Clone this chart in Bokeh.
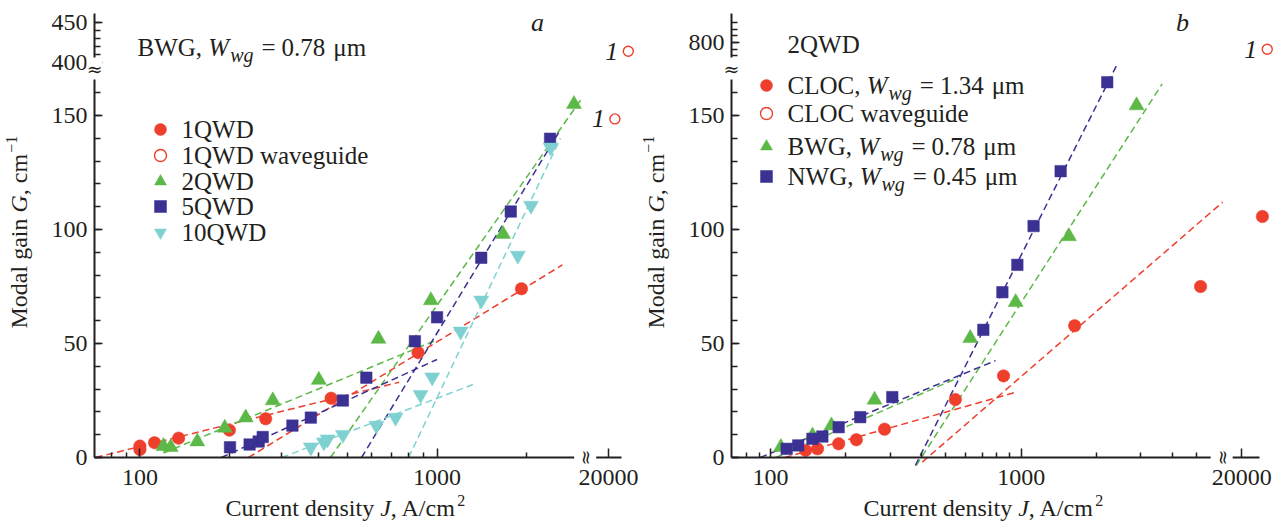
import math
from bokeh.plotting import figure
from bokeh.models import (Range1d, FixedTicker, CustomJSTickFormatter, Label,
                          Legend, LegendItem)
from bokeh.layouts import row
from bokeh.embed import file_html
from bokeh.resources import INLINE
from bokeh.core.properties import value

# ---------------- data, panel a (BWG, Wwg = 0.78 um) ----------------
a_1qwd_J = [100, 100, 112, 135, 200, 265, 440, 863, 1923]
a_1qwd_G = [3.5, 5, 6.5, 8.5, 12, 17, 26, 46, 74]
a_1qwd_wg_J = [21000, 23300]
a_1qwd_wg_G = [148.5, 414]
a_2qwd_J = [120, 127, 156, 193, 227, 280, 400, 635, 953, 1666, 2888]
a_2qwd_G = [5, 4.5, 7, 13, 17.5, 25, 34, 52, 68.9, 98, 155]
a_5qwd_J = [201, 234, 251, 259, 326, 376, 482, 578, 842, 1000, 1408, 1770, 2400]
a_5qwd_G = [4.5, 5.7, 7, 9, 14, 17.5, 25, 35, 51, 61.5, 87.6, 107.9, 139.8]
a_10qwd_J = [376, 416, 428, 482, 625, 725, 880, 963, 1200, 1408, 1870, 2070, 2410]
a_10qwd_G = [4.5, 6.7, 8, 10, 14, 17.5, 27.5, 35.2, 55.3, 68.9, 88.6, 110.5, 136]
# fitted lines: (J0, J1), (G0, G1)
a_fit_red = [((71, 745), (0, 33)), ((232, 2642), (0, 84.5))]
a_fit_green = [((120, 975), (2, 51)), ((438, 3087), (0, 158))]
a_fit_blue = [((188, 1000), (0, 43)), ((557, 2565), (0, 142.5))]
a_fit_cyan = [((300, 1320), (0, 32)), ((802, 2602), (0, 140))]
a_legend = ["1QWD", "1QWD waveguide", "2QWD", "5QWD", "10QWD"]

# ---------------- data, panel b (2QWD) ----------------
b_cloc_J = [138, 154, 187, 220, 285, 546, 850, 1633, 5190, 24200]
b_cloc_G = [3.1, 3.8, 6.0, 7.8, 12.4, 25.4, 35.8, 57.8, 75, 105.7]
b_cloc_wg_J = [25300]
b_cloc_wg_G = [790]
b_bwg_J = [110, 147, 175, 260, 626, 950, 1550, 2884]
b_bwg_G = [4.5, 9.6, 14, 25.3, 52.3, 68.1, 97, 154.4]
b_nwg_J = [116, 129, 147, 161, 187, 228, 306, 706, 841, 965, 1120, 1436, 2203]
b_nwg_G = [3.8, 5.3, 8.2, 9.2, 13.3, 17.7, 26.5, 56, 72.5, 84.5, 101.5, 125.6, 164.6]
b_fit_red = [((114, 950), (0, 28.6)), ((403, 6360), (-2, 112))]
b_fit_green = [((105, 560), (0, 35)), ((381, 3651), (-3.5, 163.9))]
b_fit_blue = [((91, 790), (0, 42.5)), ((378, 2400), (-3.5, 171.9))]
b_legend = [("CLOC", "1.34"), ("CLOC waveguide", None), ("BWG", "0.78"), ("NWG", "0.45")]

y_ticks_low = [0, 50, 100, 150]
a_y_ticks_up = [400, 450]
b_y_ticks_up = [800]
x_ticks = [100, 1000, 20000]

# ---------------- styling / geometry ----------------
INK = "#231f20"
RED, GREEN, BLUE, CYAN = "#ee3f2d", "#5cb847", "#3b3193", "#7fd1d1"
FONT = "Liberation Serif"
FIG_H = 526

RW = {' ': 250, ',': 250, '.': 250, '=': 564, '/': 278, '\u2212': 564, 'A': 722, 'B': 667,
      'C': 667, 'D': 722, 'G': 722, 'L': 611, 'M': 889, 'N': 722, 'O': 722, 'Q': 722,
      'W': 944, 'a': 444, 'c': 444, 'd': 500, 'e': 444, 'g': 500, 'i': 278, 'l': 278,
      'm': 778, 'n': 500, 'o': 500, 'r': 333, 's': 389, 't': 278, 'u': 500, 'v': 500,
      'y': 500, 'w': 722, '\u03bc': 576}
IW = {'W': 833, 'w': 667, 'g': 500, 'G': 722, 'J': 444}


def tw(s, size, italic=False):
    t = IW if italic else RW
    return sum(t.get(c, 500) for c in s) * size / 1000.0


def compose(p, pieces, x0, y0, vertical=False):
    """pieces: (text, size, italic, raise, extra_gap); x0,y0 = frame px, y0 = text middle"""
    adv = 0.0
    for text, size, italic, rs, gap in pieces:
        if vertical:
            lab = Label(x=x0 - rs, y=y0 + adv, angle=math.pi / 2)
        else:
            lab = Label(x=x0 + adv, y=y0 + rs)
        lab.x_units = "screen"
        lab.y_units = "screen"
        lab.text = text
        lab.text_font = FONT
        lab.text_font_size = f"{size}px"
        lab.text_font_style = "italic" if italic else "normal"
        lab.text_color = INK
        lab.text_align = "left"
        lab.text_baseline = "middle"
        p.add_layout(lab)
        adv += tw(text, size, italic) + gap


def wwg(prefix, num):
    return [(prefix + ", ", 25, False, 0, 0), ("W", 25, True, 0, 1),
            ("wg", 20, True, -7, 8), ("=", 25, False, 0, 6),
            (num, 25, False, 0, 8), ("\u03bcm", 25, False, 0, 0)]


def make_panel(width, xr, y_axis_at, x_bounds, gx, gy, y_up_ticks, y_up_minor,
               x_minor, x_break, y_break):
    p = figure(width=width, height=FIG_H, x_axis_type="log",
               x_range=Range1d(*xr), y_range=Range1d(-30.26, 200.44),
               output_backend="svg", toolbar_location=None,
               min_border_left=0, min_border_right=0,
               min_border_top=0, min_border_bottom=0)
    p.outline_line_color = None
    p.grid.visible = False
    p.background_fill_color = "white"
    ypos = y_ticks_low + [gy(v) for v in y_up_ticks]
    ylab = [str(v) for v in y_ticks_low + y_up_ticks]
    yminor = list(range(0, 170, 10)) + [gy(v) for v in y_up_minor]
    p.yaxis.ticker = FixedTicker(ticks=ypos, minor_ticks=yminor)
    xpos = [gx(v) for v in x_ticks]
    xlab = [str(v) for v in x_ticks]
    p.xaxis.ticker = FixedTicker(ticks=xpos, minor_ticks=x_minor)
    code = """
    for (let i = 0; i < pos.length; i++) {
      if (Math.abs(pos[i] - tick) <= 1e-6 * Math.max(1, Math.abs(tick))) return lab[i];
    }
    return "";
    """
    p.yaxis.formatter = CustomJSTickFormatter(args=dict(pos=ypos, lab=ylab), code=code)
    p.xaxis.formatter = CustomJSTickFormatter(args=dict(pos=xpos, lab=xlab), code=code)
    p.xaxis.fixed_location = 0
    p.yaxis.fixed_location = y_axis_at
    p.xaxis.bounds = x_bounds
    p.yaxis.bounds = (0, 194.7)
    for ax in (p.xaxis[0], p.yaxis[0]):
        ax.axis_line_color = INK
        ax.axis_line_width = 2
        ax.major_tick_line_color = INK
        ax.minor_tick_line_color = INK
        ax.major_tick_line_width = 1.5
        ax.minor_tick_line_width = 1.5
        ax.major_tick_out = 0
        ax.minor_tick_out = 0
        ax.major_label_text_font = FONT
        ax.major_label_text_font_size = "24px"
        ax.major_label_text_color = INK
    p.yaxis.major_tick_in = 8
    p.yaxis.minor_tick_in = 6
    p.xaxis.major_tick_in = 9
    p.xaxis.minor_tick_in = 5
    p.yaxis.major_label_standoff = 7
    p.xaxis.major_label_standoff = 12
    for lab in (Label(x=x_break, y=0, angle=math.pi / 2),
                Label(x=y_axis_at, y=y_break)):
        lab.text = "\u2248"
        lab.text_font = "DejaVu Serif"
        lab.text_font_size = "19px"
        lab.text_color = INK
        lab.text_align = "center"
        lab.text_baseline = "middle"
        lab.background_fill_color = "white"
        p.add_layout(lab)
    return p


def fit_lines(p, fits, color, gx):
    for (j0, j1), (g0, g1) in fits:
        p.line([gx(j0), gx(j1)], [g0, g1], line_color=color, line_width=1.5,
               line_dash="7 4")


def scat(p, J, G, gx, gy, marker, color, size, fill=True):
    return p.scatter([gx(v) for v in J], [gy(v) for v in G], marker=marker,
                     size=size, fill_color=color if fill else "white",
                     line_color=color, line_width=1.4 if not fill else 0.5)


def one_labels(p, J, G, gx, gy, dx):
    for j, g in zip(J, G):
        lab = Label(x=gx(j), y=gy(g), x_offset=dx, text="1", text_font=FONT,
                    text_font_size="26px", text_font_style="italic",
                    text_color=INK, text_align="right", text_baseline="middle")
        p.add_layout(lab)


def legend_key(p, renderer, cx, cy, fig_left):
    """one legend entry (marker only) centred at page position (cx, cy)"""
    leg = Legend(items=[LegendItem(label=value(""), renderers=[renderer])],
                 location=(cx - fig_left - 15, FIG_H - cy - 15),
                 glyph_width=30, glyph_height=30, label_standoff=0, label_width=1,
                 label_height=1, padding=0, margin=0, border_line_alpha=0,
                 background_fill_alpha=0, label_text_font_size="1px")
    p.add_layout(leg)


A_XS = 3777 / 20000.0
B_XS = 7570 / 20000.0


def gx_a(J):
    return J * A_XS if J > 10000 else J


def gy_a(v):
    return 173.25 + (v - 400) * 0.351 if v > 300 else v


def gx_b(J):
    return J * B_XS if J > 10000 else J


def gy_b(v):
    return 182.0 + (v - 800) * 0.294 if v > 300 else v


minor_a = [80, 90] + list(range(200, 1000, 100)) + [2000]
minor_b = [80, 90] + list(range(200, 1000, 100)) + [2000, 3000, 4000, 5000]

# ---------------- panel a ----------------
pa = make_panel(640, (33.96, 4836), 70.4, (70.4, 4190), gx_a, gy_a,
                a_y_ticks_up, list(range(400, 460, 10)), minor_a, 3150, 170.6)
fit_lines(pa, a_fit_red, RED, gx_a)
fit_lines(pa, a_fit_green, GREEN, gx_a)
fit_lines(pa, a_fit_blue, BLUE, gx_a)
fit_lines(pa, a_fit_cyan, CYAN, gx_a)
r1 = scat(pa, a_1qwd_J, a_1qwd_G, gx_a, gy_a, "circle", RED, 12.5)
r1w = scat(pa, a_1qwd_wg_J, a_1qwd_wg_G, gx_a, gy_a, "circle", RED, 10, fill=False)
r2 = scat(pa, a_2qwd_J, a_2qwd_G, gx_a, gy_a, "triangle", GREEN, 15)
r5 = scat(pa, a_5qwd_J, a_5qwd_G, gx_a, gy_a, "square", BLUE, 11.5)
r10 = scat(pa, a_10qwd_J, a_10qwd_G, gx_a, gy_a, "inverted_triangle", CYAN, 15)
one_labels(pa, a_1qwd_wg_J, a_1qwd_wg_G, gx_a, gy_a, -10)

for i, (rr, txt) in enumerate(zip((r1, r1w, r2, r5, r10), a_legend)):
    yc = 129 + 25.8 * i
    legend_key(pa, rr, 160, yc, 0)
    compose(pa, [(txt, 25, False, 0, 0)], 181, FIG_H - yc)

compose(pa, wwg("BWG", "0.78"), 137, FIG_H - 47)
compose(pa, [("Current density ", 24, False, 0, 0), ("J", 24, True, 0, 0),
             (", A/cm", 24, False, 0, 1), ("2", 16, False, 7, 0)], 225, FIG_H - 507)
compose(pa, [("Modal gain ", 24, False, 0, 0), ("G", 24, True, 0, 0),
             (", cm", 24, False, 0, 1), ("\u22121", 16, False, 7, 0)],
        18, FIG_H - 328, vertical=True)
pa.add_layout(Label(x=537, y=FIG_H - 22, x_units="screen", y_units="screen", text="a",
                    text_font=FONT, text_font_size="26px", text_font_style="italic",
                    text_color=INK, text_align="center", text_baseline="middle"))

# ---------------- panel b ----------------
B0 = 640
pb = make_panel(640, (30.3, 10815), 69.9, (69.9, 8923), gx_b, gy_b,
                b_y_ticks_up, list(range(770, 840, 10)), minor_b, 6300, 170.6)
fit_lines(pb, b_fit_red, RED, gx_b)
fit_lines(pb, b_fit_green, GREEN, gx_b)
fit_lines(pb, b_fit_blue, BLUE, gx_b)
s1 = scat(pb, b_cloc_J, b_cloc_G, gx_b, gy_b, "circle", RED, 12.5)
s1w = scat(pb, b_cloc_wg_J, b_cloc_wg_G, gx_b, gy_b, "circle", RED, 10, fill=False)
s2 = scat(pb, b_bwg_J, b_bwg_G, gx_b, gy_b, "triangle", GREEN, 15)
s3 = scat(pb, b_nwg_J, b_nwg_G, gx_b, gy_b, "square", BLUE, 11.5)
one_labels(pb, b_cloc_wg_J, b_cloc_wg_G, gx_b, gy_b, -10)

row_y = [85, 113, 146, 176]
for rr, (name, num), yc in zip((s1, s1w, s2, s3), b_legend, row_y):
    legend_key(pb, rr, 766, yc, B0)
    pieces = wwg(name, num) if num else [(name, 25, False, 0, 0)]
    compose(pb, pieces, 787 - B0, FIG_H - yc)
compose(pb, [("2QWD", 25, False, 0, 0)], 787 - B0, FIG_H - 44)
compose(pb, [("Current density ", 24, False, 0, 0), ("J", 24, True, 0, 0),
             (", A/cm", 24, False, 0, 1), ("2", 16, False, 7, 0)], 863 - B0, FIG_H - 507)
compose(pb, [("Modal gain ", 24, False, 0, 0), ("G", 24, True, 0, 0),
             (", cm", 24, False, 0, 1), ("\u22121", 16, False, 7, 0)],
        655 - B0, FIG_H - 328, vertical=True)
pb.add_layout(Label(x=1182 - B0, y=FIG_H - 22, x_units="screen", y_units="screen", text="b",
                    text_font=FONT, text_font_size="26px", text_font_style="italic",
                    text_color=INK, text_align="center", text_baseline="middle"))

layout = row(pa, pb)
open("out.html", "w").write(file_html(layout, INLINE))
